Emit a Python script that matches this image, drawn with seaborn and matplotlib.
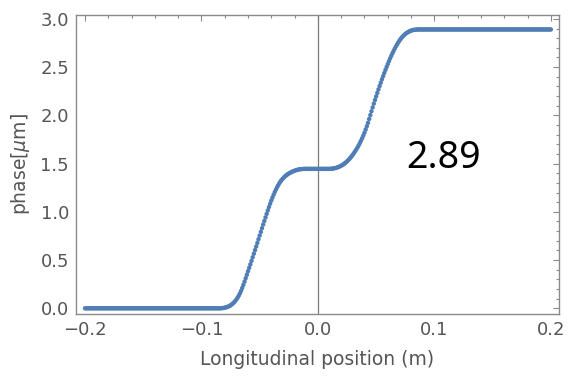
import numpy as np
import pandas as pd
import matplotlib
matplotlib.use("Agg")
import matplotlib.pyplot as plt
from matplotlib.ticker import MultipleLocator
import seaborn as sns

# Sample positions along the beam axis (m), one every millimetre
position_m = np.round(np.linspace(-0.2, 0.2, 401), 3)

# Phase (um) sampled at those positions
flat_low = [0.0] * 116                      # -0.200 .. -0.085
rise_one = [                                # -0.084 .. -0.015
    0.000, 0.001, 0.002, 0.004, 0.006, 0.009, 0.013, 0.018, 0.024, 0.031,
    0.040, 0.050, 0.062, 0.076, 0.091, 0.109, 0.130, 0.154, 0.181, 0.211,
    0.243, 0.277, 0.312, 0.348, 0.384, 0.420, 0.456, 0.492, 0.529, 0.566,
    0.603, 0.640, 0.678, 0.716, 0.754, 0.792, 0.830, 0.868, 0.905, 0.942,
    0.979, 1.015, 1.050, 1.084, 1.117, 1.148, 1.178, 1.206, 1.232, 1.256,
    1.278, 1.298, 1.316, 1.332, 1.346, 1.359, 1.370, 1.380, 1.389, 1.397,
    1.404, 1.410, 1.416, 1.421, 1.426, 1.430, 1.434, 1.437, 1.440, 1.442,
]
plateau = [1.443, 1.444] + [1.445] * 23     # -0.014 .. 0.010
rise_two = [                                # 0.011 .. 0.085
    1.446, 1.447, 1.449, 1.451, 1.454, 1.457, 1.461, 1.466, 1.472, 1.478,
    1.485, 1.493, 1.502, 1.512, 1.523, 1.535, 1.548, 1.562, 1.577, 1.593,
    1.610, 1.628, 1.647, 1.667, 1.689, 1.712, 1.737, 1.763, 1.791, 1.821,
    1.853, 1.887, 1.922, 1.962, 2.002, 2.042, 2.082, 2.121, 2.159, 2.196,
    2.233, 2.269, 2.304, 2.339, 2.373, 2.406, 2.439, 2.471, 2.502, 2.532,
    2.561, 2.590, 2.617, 2.643, 2.668, 2.692, 2.715, 2.736, 2.756, 2.774,
    2.791, 2.806, 2.820, 2.832, 2.843, 2.852, 2.860, 2.867, 2.873, 2.878,
    2.882, 2.885, 2.887, 2.888, 2.889,
]
flat_high = [2.89] * 115                    # 0.086 .. 0.200
phase_um = flat_low + rise_one + plateau + rise_two + flat_high

total_phase_label = "2.89"
x_ticks = [-0.2, -0.1, 0.0, 0.1, 0.2]
y_ticks = [0.0, 0.5, 1.0, 1.5, 2.0, 2.5, 3.0]

df = pd.DataFrame({"position": position_m, "phase": phase_um})

sns.set_style("white")
plt.rcParams["font.family"] = ["DejaVu Sans"]

frame_color = "#8a8a8a"
label_color = "#555555"
dot_color = "#4f7db5"

fig = plt.figure(figsize=(5.68, 3.80), dpi=100)
ax = fig.add_axes([76 / 568, 1 - 314 / 380, (559 - 76) / 568, (314 - 15) / 380])

# vertical reference axis at x = 0
ax.axvline(0.0, color="#7a7a7a", lw=0.9, zorder=1)

sns.scatterplot(data=df, x="position", y="phase", ax=ax, s=10,
                color=dot_color, linewidth=0, edgecolor="none",
                zorder=3, legend=False)

ax.set_xlim(-0.2077, 0.207)
ax.set_ylim(-0.059, 3.04)
ax.set_xticks(x_ticks)
ax.set_xticklabels([f"{v:.1f}".replace("-", "\u2212") for v in x_ticks])
ax.set_yticks(y_ticks)
ax.set_yticklabels([f"{v:.1f}" for v in y_ticks])
ax.xaxis.set_minor_locator(MultipleLocator(0.02))
ax.yaxis.set_minor_locator(MultipleLocator(0.1))

for side in ["left", "right", "top", "bottom"]:
    ax.spines[side].set_visible(True)
    ax.spines[side].set_color(frame_color)
    ax.spines[side].set_linewidth(1.0)

ax.tick_params(which="both", direction="in", top=True, right=True,
               color=frame_color, width=0.8, labelcolor=label_color,
               labelsize=13, pad=5)
ax.tick_params(which="major", length=4.5)
ax.tick_params(which="minor", length=2.5)

ax.set_xlabel("Longitudinal position (m)", fontsize=13.5, color=label_color,
              labelpad=8)
ax.set_ylabel("phase[$\\mu$m]", fontsize=13.5, color=label_color, labelpad=6)

ax.text(0.108, 1.455, total_phase_label, fontsize=27, color="black",
        family=["Noto Sans", "DejaVu Sans"], ha="center", va="baseline")

fig.savefig("out.png", dpi=100)
